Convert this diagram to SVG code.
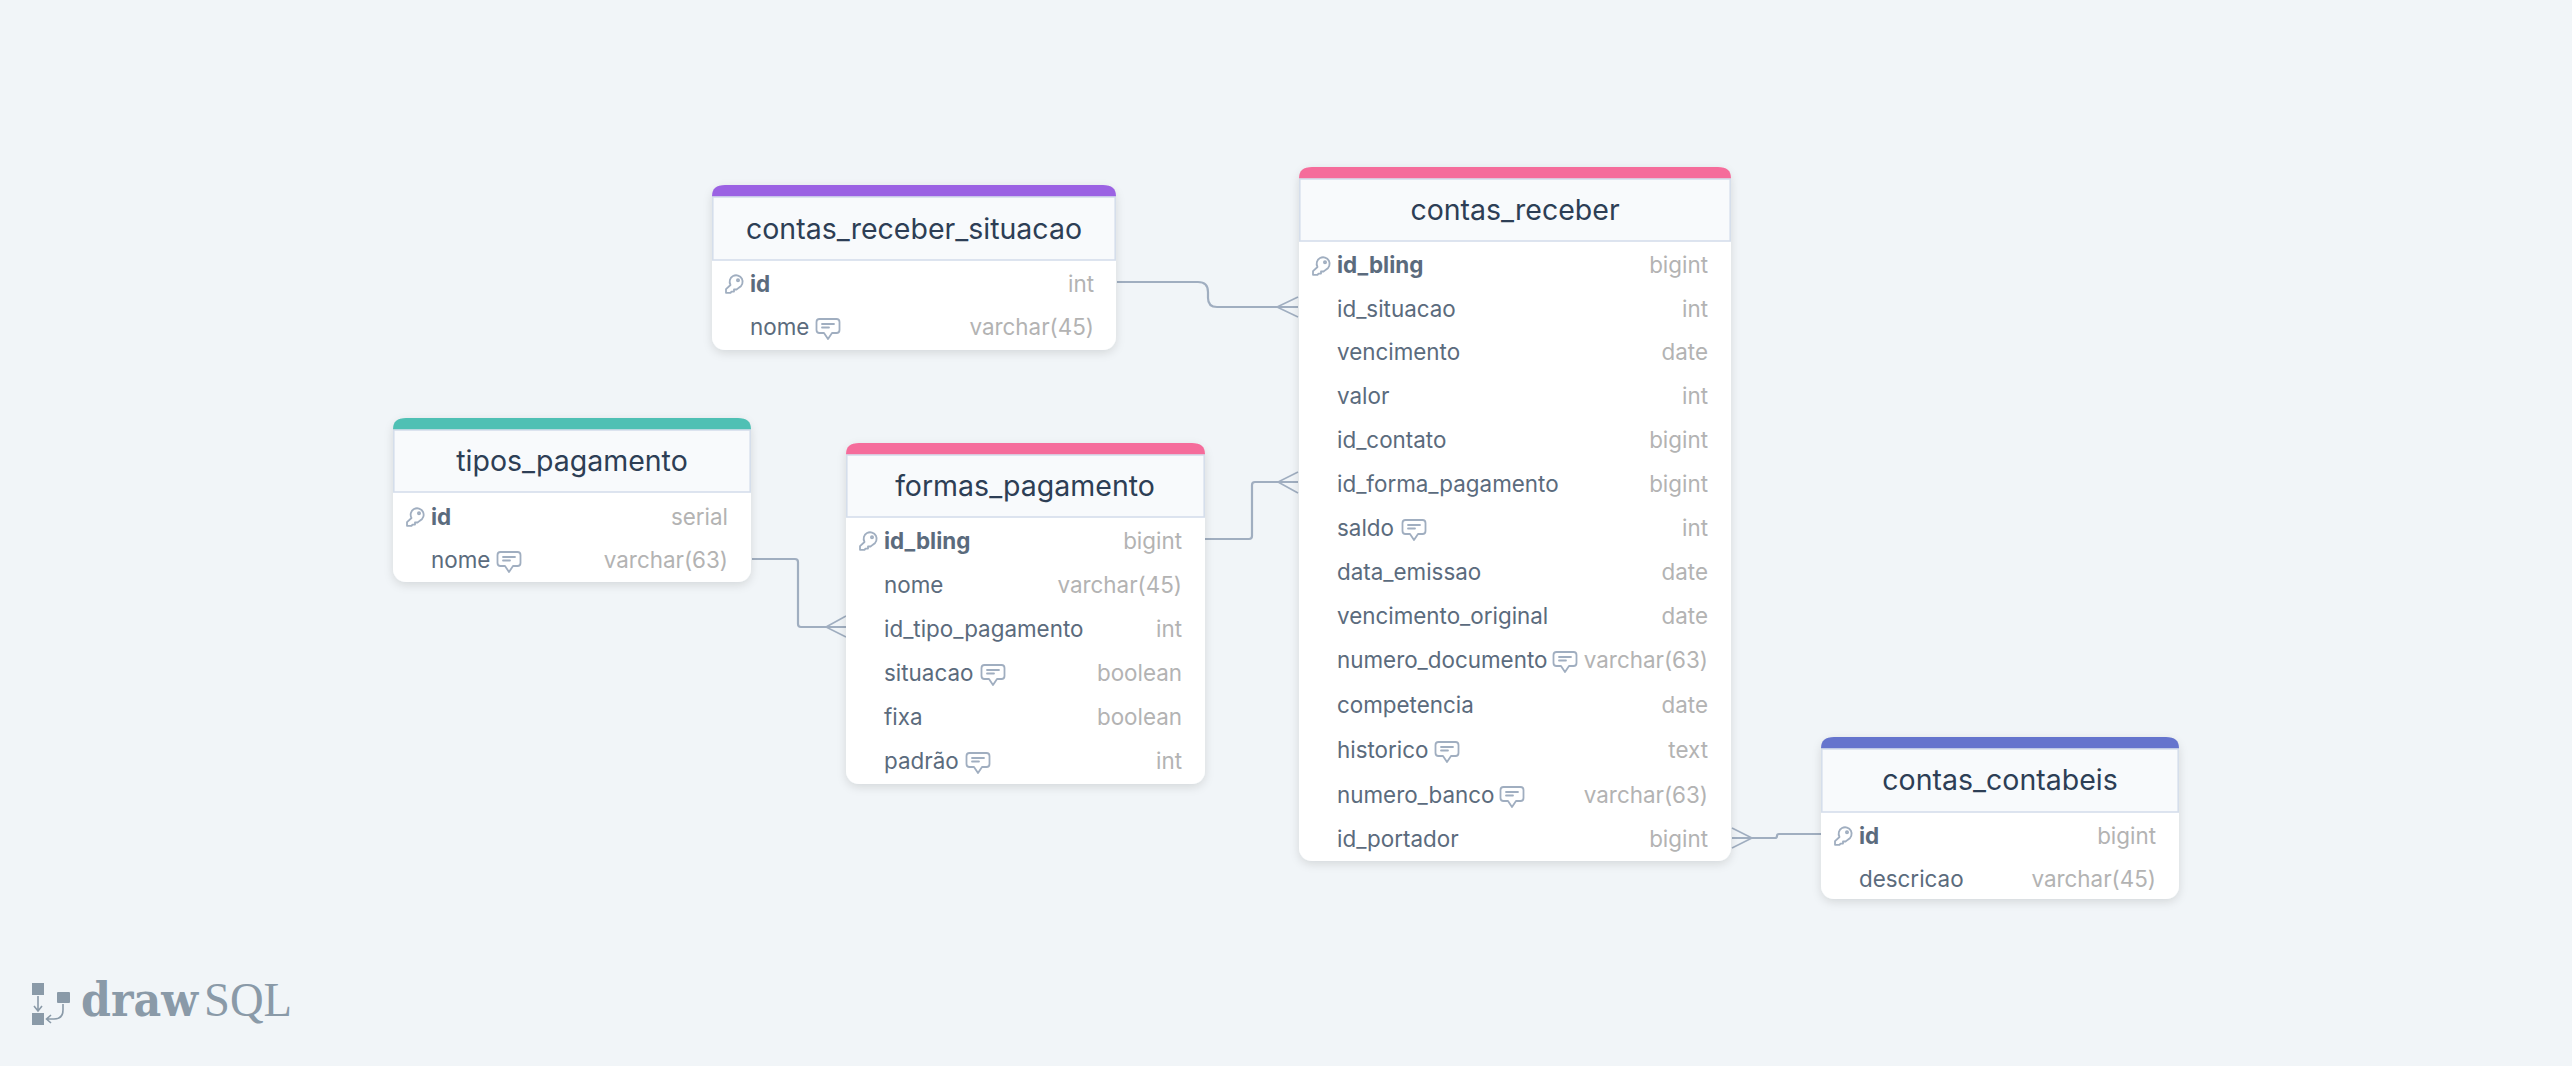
<svg xmlns="http://www.w3.org/2000/svg" width="2572" height="1066" viewBox="0 0 2572 1066">
<style>
text{font-family:Inter,"Noto Sans",sans-serif}
.card{fill:#fff;filter:url(#sh)}
.hd{fill:#f8fafc;stroke:#d5deeb;stroke-width:1.6}
.t{font-size:28.5px;fill:#2d3e55;text-anchor:middle}
.n{font-size:22.400px;fill:#5b6b7d}
.pk{font-weight:700}
.y{font-size:22.400px;fill:#b3b3b3;text-anchor:end}
.c{fill:none;stroke:#a0aec0;stroke-width:2.2}
.c2{fill:none;stroke:#a0aec0;stroke-width:1.6}
.ic{fill:none;stroke:#a0aec0;stroke-width:1.8;stroke-linejoin:round;stroke-linecap:round}
.lg{fill:#8a9aa8}
</style>
<defs>
<filter id="sh" x="-10%" y="-10%" width="120%" height="125%"><feDropShadow dx="0" dy="3" stdDeviation="5" flood-color="#000" flood-opacity="0.12"/></filter>
<g id="key" class="ic"><path d="M5.500 1 A6.500 6.500 0 1 1 14 3.600 L11.500 5.500 H9 V7.600 H6.500 L5.500 8.800 H1 V5.200 Z"/><circle cx="13" cy="-3.800" r="1.100"/></g>
<g id="cm" class="ic"><path d="M3.500 -8 H20.500 Q23.500 -8 23.500 -5 V3 Q23.500 6 20.500 6 H16 L12 12 L8 6 H3.500 Q0.500 6 0.500 3 V-5 Q0.500 -8 3.500 -8 Z"/><path d="M6 -3 H18 M6 0.500 H13"/></g>
</defs>
<rect width="2572" height="1066" fill="#f1f5f8"/>

<g id="connectors">
<path class="c" d="M1117 282 H1198 Q1208 282 1208 292 V298 Q1208 307 1217 307 H1298"/>
<path class="c2" d="M1298 297 L1277 307 L1298 317"/>
<path class="c" d="M752 559 H795 Q798 559 798 562 V624 Q798 627 801 627 H846"/>
<path class="c2" d="M846 616 L826 627 L846 637"/>
<path class="c" d="M1205 539 H1249 Q1252 539 1252 536 V485 Q1252 482 1255 482 H1298"/>
<path class="c2" d="M1298 472 L1278 482 L1298 493"/>
<path class="c" d="M1821 834 H1779 Q1777 834 1777 836 Q1777 838 1775 838 H1732"/>
<path class="c2" d="M1732 828 L1752 838 L1732 848"/>
</g>

<g id="contas_receber_situacao">
<rect class="card" x="712" y="185" width="404" height="165" rx="13"/>
<path fill="#9b62e3" d="M712 197 V196 Q712 185 725 185 H1103 Q1116 185 1116 196 V197 Z"/>
<rect class="hd" x="712.800" y="197" width="402.400" height="63"/>
<text class="t" x="914" y="239">contas_receber_situacao</text>
<use href="#key" x="725" y="284"/><text class="n pk" x="750" y="292">id</text><text class="y" x="1094" y="292">int</text>
<text class="n" x="750" y="335">nome</text><use href="#cm" x="816" y="327"/><text class="y" x="1094" y="335">varchar(45)</text>
</g>

<g id="tipos_pagamento">
<rect class="card" x="393" y="418" width="358" height="164" rx="13"/>
<path fill="#4fc0b4" d="M393 430 V429 Q393 418 406 418 H738 Q751 418 751 429 V430 Z"/>
<rect class="hd" x="393.800" y="430" width="356.400" height="62"/>
<text class="t" x="572" y="471">tipos_pagamento</text>
<use href="#key" x="406" y="517"/><text class="n pk" x="431" y="525">id</text><text class="y" x="728" y="525">serial</text>
<text class="n" x="431" y="568">nome</text><use href="#cm" x="497" y="560"/><text class="y" x="728" y="568">varchar(63)</text>
</g>

<g id="formas_pagamento">
<rect class="card" x="846" y="443" width="359" height="341" rx="13"/>
<path fill="#f56c9b" d="M846 455 V454 Q846 443 859 443 H1192 Q1205 443 1205 454 V455 Z"/>
<rect class="hd" x="846.800" y="455" width="357.400" height="62"/>
<text class="t" x="1025" y="496">formas_pagamento</text>
<use href="#key" x="859" y="541"/><text class="n pk" x="884" y="549">id_bling</text><text class="y" x="1182" y="549">bigint</text>
<text class="n" x="884" y="593">nome</text><text class="y" x="1182" y="593">varchar(45)</text>
<text class="n" x="884" y="637">id_tipo_pagamento</text><text class="y" x="1182" y="637">int</text>
<text class="n" x="884" y="681">situacao</text><use href="#cm" x="981" y="673"/><text class="y" x="1182" y="681">boolean</text>
<text class="n" x="884" y="725">fixa</text><text class="y" x="1182" y="725">boolean</text>
<text class="n" x="884" y="769">padrão</text><use href="#cm" x="966" y="761"/><text class="y" x="1182" y="769">int</text>
</g>

<g id="contas_receber">
<rect class="card" x="1299" y="167" width="432" height="694" rx="13"/>
<path fill="#f56c9b" d="M1299 179 V178 Q1299 167 1312 167 H1718 Q1731 167 1731 178 V179 Z"/>
<rect class="hd" x="1299.800" y="179" width="430.400" height="62"/>
<text class="t" x="1515" y="220">contas_receber</text>
<use href="#key" x="1312" y="266"/><text class="n pk" x="1337" y="273">id_bling</text><text class="y" x="1708" y="273">bigint</text>
<text class="n" x="1337" y="317">id_situacao</text><text class="y" x="1708" y="317">int</text>
<text class="n" x="1337" y="360">vencimento</text><text class="y" x="1708" y="360">date</text>
<text class="n" x="1337" y="404">valor</text><text class="y" x="1708" y="404">int</text>
<text class="n" x="1337" y="448">id_contato</text><text class="y" x="1708" y="448">bigint</text>
<text class="n" x="1337" y="492">id_forma_pagamento</text><text class="y" x="1708" y="492">bigint</text>
<text class="n" x="1337" y="536">saldo</text><use href="#cm" x="1402" y="528"/><text class="y" x="1708" y="536">int</text>
<text class="n" x="1337" y="580">data_emissao</text><text class="y" x="1708" y="580">date</text>
<text class="n" x="1337" y="624">vencimento_original</text><text class="y" x="1708" y="624">date</text>
<text class="n" x="1337" y="668">numero_documento</text><use href="#cm" x="1553" y="660"/><text class="y" x="1708" y="668">varchar(63)</text>
<text class="n" x="1337" y="713">competencia</text><text class="y" x="1708" y="713">date</text>
<text class="n" x="1337" y="758">historico</text><use href="#cm" x="1435" y="750"/><text class="y" x="1708" y="758">text</text>
<text class="n" x="1337" y="803">numero_banco</text><use href="#cm" x="1500" y="795"/><text class="y" x="1708" y="803">varchar(63)</text>
<text class="n" x="1337" y="847">id_portador</text><text class="y" x="1708" y="847">bigint</text>
</g>

<g id="contas_contabeis">
<rect class="card" x="1821" y="737" width="358" height="162" rx="13"/>
<path fill="#6574cd" d="M1821 749 V748 Q1821 737 1834 737 H2166 Q2179 737 2179 748 V749 Z"/>
<rect class="hd" x="1821.800" y="749" width="356.400" height="63"/>
<text class="t" x="2000" y="790">contas_contabeis</text>
<use href="#key" x="1834" y="836"/><text class="n pk" x="1859" y="844">id</text><text class="y" x="2156" y="844">bigint</text>
<text class="n" x="1859" y="887">descricao</text><text class="y" x="2156" y="887">varchar(45)</text>
</g>

<g id="logo">
<rect class="lg" x="32" y="983" width="12" height="12"/><rect class="lg" x="57" y="992" width="13" height="11" rx="1"/><rect class="lg" x="32" y="1013" width="12" height="12"/>
<path fill="none" stroke="#8a9aa8" stroke-width="1.600" d="M38 996 V1010 M34 1006 L38 1011 L42 1006 M63 1004 V1010 Q63 1019 54 1019 H47 M51 1015 L46.500 1019 L51 1023"/>
<text x="81" y="1016" style="font-family:'DejaVu Serif',serif;font-weight:700;font-size:46px;fill:#8a9aa8" textLength="117" lengthAdjust="spacingAndGlyphs">draw</text>
<text x="204" y="1016" style="font-family:'Liberation Serif',serif;font-size:48px;fill:#8a9aa8" textLength="88" lengthAdjust="spacingAndGlyphs">SQL</text>
</g>
</svg>
